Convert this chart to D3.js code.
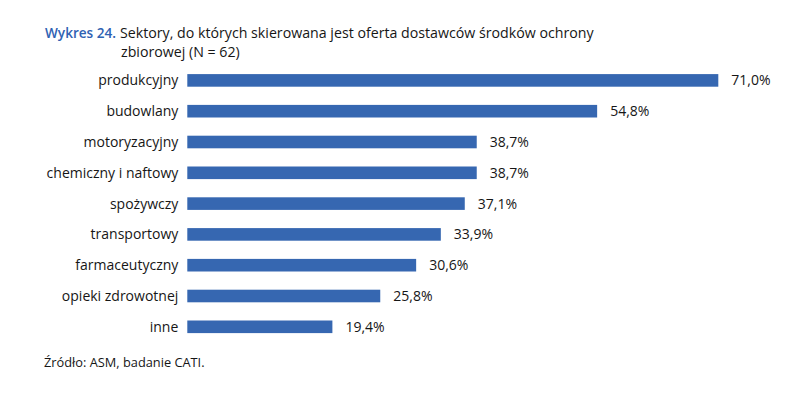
<!DOCTYPE html>
<html>
<head>
<meta charset="utf-8">
<script src="https://cdn.jsdelivr.net/npm/d3@7"></script>
<style>
  body { margin: 0; background: #fff; }
  svg { display: block; font-family: 'Open Sans', sans-serif; }
</style>
</head>
<body>
<div id="chart"></div>
<script>
// Chart data
const categories = ['produkcyjny', 'budowlany', 'motoryzacyjny', 'chemiczny i naftowy',
  'spożywczy', 'transportowy', 'farmaceutyczny', 'opieki zdrowotnej', 'inne'];
const values = [71.0, 54.8, 38.7, 38.7, 37.1, 33.9, 30.6, 25.8, 19.4];

const width = 800, height = 398;
const margin = { top: 65, left: 187.3 };
const rowStep = 30.8;
const textColor = '#161616';

const svg = d3.select('#chart').append('svg')
  .attr('width', width)
  .attr('height', height);

// Title
svg.append('text')
  .attr('x', 45)
  .attr('y', 38)
  .attr('font-size', 13.6)
  .attr('font-weight', 600)
  .attr('fill', '#2f62b3')
  .text('Wykres 24.');

svg.append('text')
  .attr('x', 120)
  .attr('y', 38)
  .attr('font-size', 14.2)
  .attr('fill', textColor)
  .text('Sektory, do których skierowana jest oferta dostawców środków ochrony');

svg.append('text')
  .attr('x', 121)
  .attr('y', 57)
  .attr('font-size', 14.2)
  .attr('fill', textColor)
  .text('zbiorowej (N = 62)');

// Scales
const x = d3.scaleLinear()
  .domain([0, 71.0])
  .range([margin.left, 718.3]);

const y = d3.scaleBand()
  .domain(categories)
  .range([margin.top, margin.top + rowStep * categories.length])
  .paddingInner(0.6)
  .paddingOuter(0.3);

const g = svg.append('g');

// Bars
g.selectAll('.bar')
  .data(categories)
  .enter().append('rect')
  .attr('class', 'bar')
  .attr('x', x(0))
  .attr('y', d => y(d) + y.bandwidth() / 2 - 6.3)
  .attr('width', (d, i) => x(values[i]) - x(0))
  .attr('height', 12.6)
  .attr('fill', '#3667b1');

// Category labels
g.selectAll('.cat')
  .data(categories)
  .enter().append('text')
  .attr('class', 'cat')
  .attr('x', x(0) - 9)
  .attr('y', d => y(d) + y.bandwidth() / 2)
  .attr('dy', '0.35em')
  .attr('text-anchor', 'end')
  .attr('font-size', 14)
  .attr('fill', textColor)
  .text(d => d);

// Value labels
g.selectAll('.val')
  .data(categories)
  .enter().append('text')
  .attr('class', 'val')
  .attr('x', (d, i) => x(values[i]) + 13)
  .attr('y', d => y(d) + y.bandwidth() / 2)
  .attr('dy', '0.35em')
  .attr('font-size', 14)
  .attr('fill', textColor)
  .text((d, i) => values[i].toFixed(1).replace('.', ',') + '%');

// Source
svg.append('text')
  .attr('x', 44)
  .attr('y', 367)
  .attr('font-size', 12.8)
  .attr('fill', textColor)
  .text('Źródło: ASM, badanie CATI.');
</script>
</body>
</html>
